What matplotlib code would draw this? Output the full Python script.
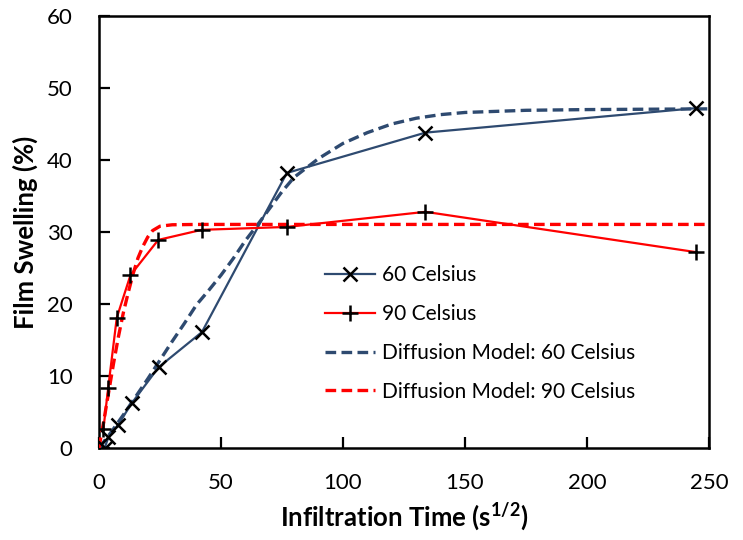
import matplotlib
matplotlib.use("Agg")
import matplotlib.pyplot as plt

plt.rcParams['font.family'] = ['Lato', 'DejaVu Sans']
plt.rcParams['mathtext.fontset'] = 'custom'
plt.rcParams['mathtext.rm'] = 'Lato:bold'
plt.rcParams['mathtext.it'] = 'Lato:bold'
plt.rcParams['mathtext.bf'] = 'Lato:bold'

# Data (x = sqrt(time) in s^1/2, y = film swelling %)
x60 = [2.3, 3.9, 7.8, 13.4, 24.4, 42.2, 77.0, 133.8, 244.7]
y60 = [0.0, 1.5, 3.2, 6.2, 11.2, 16.1, 38.2, 43.8, 47.2]

x90 = [1.8, 3.8, 7.3, 12.9, 24.3, 42.1, 77.0, 133.8, 244.7]
y90 = [2.6, 8.4, 18.1, 24.0, 28.9, 30.3, 30.7, 32.8, 27.2]

xm60 = [0, 5, 10, 15, 20, 25, 30, 35, 40, 45, 50, 55, 60, 65, 70, 75, 80, 85,
        90, 100, 110, 120, 130, 140, 150, 175, 200, 225, 250]
ym60 = [0, 2.2, 4.6, 7.1, 9.6, 12.2, 14.8, 17.3, 19.9, 21.9, 24.0, 26.3, 28.8,
        31.0, 33.3, 35.6, 37.6, 38.9, 40.2, 42.3, 43.8, 45.0, 45.8, 46.3, 46.6,
        46.9, 47.0, 47.05, 47.1]

xm90 = [0, 2, 4, 6, 8, 10, 12, 14, 16, 18, 20, 22, 25, 30, 40, 60, 100, 150,
        200, 250]
ym90 = [0, 3.8, 7.8, 11.8, 15.5, 18.8, 21.6, 24.2, 26.4, 28.0, 29.3, 30.2,
        30.8, 31.0, 31.05, 31.05, 31.05, 31.05, 31.05, 31.05]

xticks = [0, 50, 100, 150, 200, 250]
yticks = [0, 10, 20, 30, 40, 50, 60]

navy = '#2E4A70'
red = '#FF0000'

fig = plt.figure(figsize=(7.43, 5.40), dpi=100)
ax = fig.add_axes([0.1332, 0.1704, 0.8210, 0.8000])

ax.plot(x60, y60, color=navy, lw=1.6, marker='x', ms=10, mec='black',
        mew=1.8, label='60 Celsius', zorder=4)
ax.plot(x90, y90, color=red, lw=1.6, marker='+', ms=11, mec='black',
        mew=1.8, label='90 Celsius', zorder=4)
ax.plot(xm60, ym60, color=navy, lw=2.4, dashes=(3.2, 1.6),
        label='Diffusion Model: 60 Celsius', zorder=3)
ax.plot(xm90, ym90, color=red, lw=2.4, dashes=(3.2, 1.6),
        label='Diffusion Model: 90 Celsius', zorder=3)

ax.set_xlim(0, 250)
ax.set_ylim(0, 60)
ax.set_xticks(xticks)
ax.set_yticks(yticks)
ax.tick_params(direction='in', length=8, width=1.6, labelsize=16,
               top=False, right=False)
ax.tick_params(axis='y', pad=19)
ax.tick_params(axis='x', pad=18)
for s in ax.spines.values():
    s.set_linewidth(1.8)
    s.set_color('black')

ax.set_xlabel('Infiltration Time (s$^{1/2}$)', fontsize=18.5, fontweight='bold',
              labelpad=6)
ax.set_ylabel('Film Swelling (%)', fontsize=18.5, fontweight='bold', labelpad=6)

leg = ax.legend(loc='center left', bbox_to_anchor=(0.37, 0.265), frameon=False,
                fontsize=15, handlelength=2.4, handletextpad=0.35,
                labelspacing=0.9, borderpad=0, borderaxespad=0)

fig.savefig('out.png', dpi=100)
